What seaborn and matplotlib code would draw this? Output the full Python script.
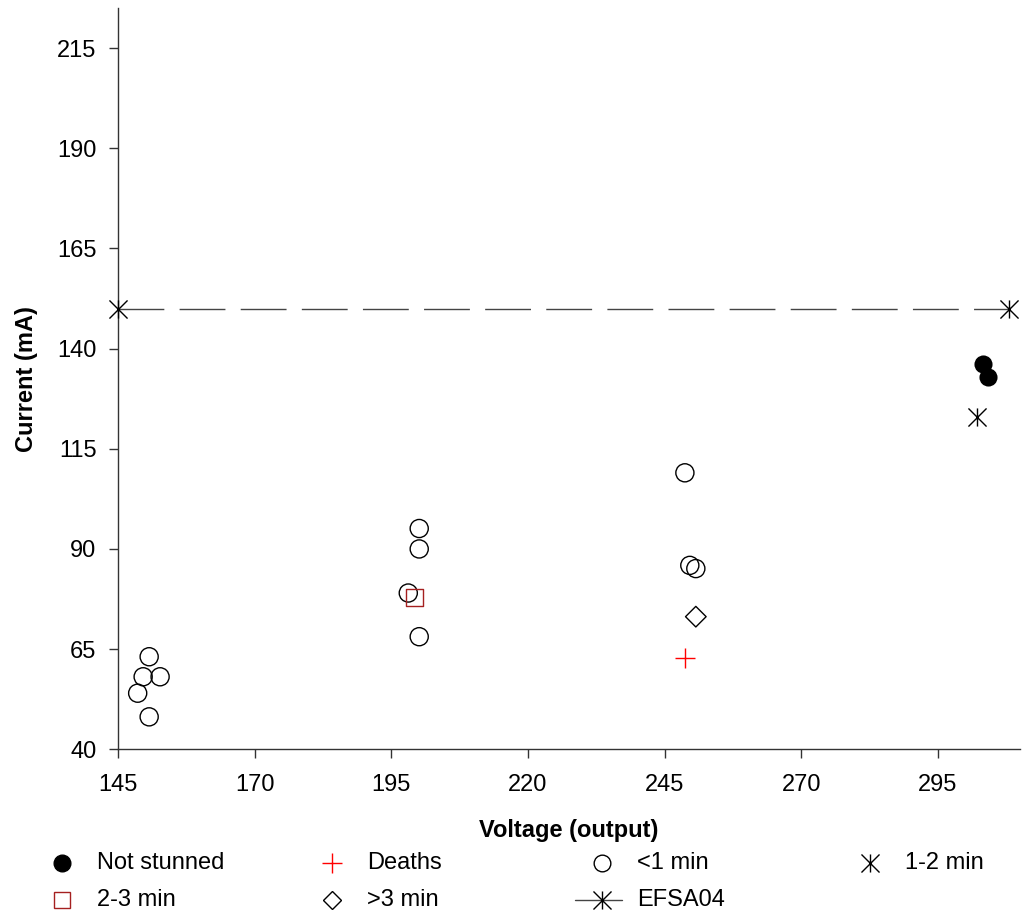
import numpy as np
import matplotlib
matplotlib.use("Agg")
import matplotlib.pyplot as plt
from matplotlib.path import Path
from matplotlib.lines import Line2D
import seaborn as sns

# --- data ---
not_stunned_x = [303.2, 304.1]
not_stunned_y = [136.2, 133.0]

deaths_x = [248.8]
deaths_y = [62.9]

lt1_x = [150.7, 149.6, 152.7, 148.6, 150.7, 200.1, 200.1, 198.1, 200.1, 248.7, 249.6, 250.7]
lt1_y = [63.1, 58.1, 58.1, 54.0, 48.1, 95.1, 90.0, 79.0, 68.1, 109.0, 85.9, 85.1]

m12_x = [302.2]
m12_y = [122.9]

m23_x = [199.2]
m23_y = [78.0]

gt3_x = [250.7]
gt3_y = [73.1]

efsa_x = [145, 308]
efsa_y = [150, 150]

x_ticks = [145, 170, 195, 220, 245, 270, 295]
y_ticks = [40, 65, 90, 115, 140, 165, 190, 215]

legend_labels = ["Not stunned", "Deaths", "<1 min", "1-2 min", "2-3 min", ">3 min", "EFSA04"]

# asterisk: vertical bar plus an X
ast = Path([(0, -1), (0, 1), (-1, -1), (1, 1), (-1, 1), (1, -1)],
           [Path.MOVETO, Path.LINETO, Path.MOVETO, Path.LINETO, Path.MOVETO, Path.LINETO])

sns.set_style("ticks")
plt.rcParams['font.family'] = ['Liberation Sans', 'DejaVu Sans']
plt.rcParams['text.color'] = 'black'
plt.rcParams['axes.labelcolor'] = 'black'
plt.rcParams['xtick.color'] = '#333333'
plt.rcParams['ytick.color'] = '#333333'
plt.rcParams['xtick.labelcolor'] = 'black'
plt.rcParams['ytick.labelcolor'] = 'black'

W, H = 1023, 916
fig = plt.figure(figsize=(W / 100, H / 100), dpi=100)
ax = fig.add_axes([118 / W, 1 - 749.3 / H, (1020 - 118) / W, (749.3 - 8) / H])

dark_red = "#A52020"
line_col = "#444444"
fs = 17

# EFSA04 reference line
ax.plot(efsa_x, efsa_y, color=line_col, lw=1, linestyle=(0, (33, 11)), zorder=1)
sns.scatterplot(x=efsa_x, y=efsa_y, marker=ast, s=170, color="black", edgecolor="black",
                linewidth=1, ax=ax, legend=False, zorder=3, clip_on=False)

sns.scatterplot(x=lt1_x, y=lt1_y, marker='o', s=170, facecolors='none', edgecolors='black',
                linewidth=1, ax=ax, legend=False, zorder=3)
sns.scatterplot(x=m23_x, y=m23_y, marker='s', s=150, facecolors='none', edgecolors=dark_red,
                linewidth=1, ax=ax, legend=False, zorder=4)
sns.scatterplot(x=gt3_x, y=gt3_y, marker='D', s=110, facecolors='none', edgecolors='black',
                linewidth=1, ax=ax, legend=False, zorder=3)
sns.scatterplot(x=deaths_x, y=deaths_y, marker='+', s=220, color='red',
                linewidth=1, ax=ax, legend=False, zorder=3)
sns.scatterplot(x=m12_x, y=m12_y, marker=ast, s=170, color='black', edgecolor='black',
                linewidth=1, ax=ax, legend=False, zorder=3)
sns.scatterplot(x=not_stunned_x, y=not_stunned_y, marker='o', s=170, color='black',
                edgecolor='black', linewidth=0, ax=ax, legend=False, zorder=3)

ax.set_xlim(145, 310)
ax.set_ylim(40, 225)
ax.set_xticks(x_ticks)
ax.set_yticks(y_ticks)
ax.tick_params(axis='both', direction='out', length=6.5, width=1, labelsize=fs)
ax.tick_params(axis='x', pad=11)
ax.tick_params(axis='y', pad=9)
sns.despine(ax=ax)
for sp in ['left', 'bottom']:
    ax.spines[sp].set_color('#333333')
    ax.spines[sp].set_linewidth(1)

ax.set_xlabel("Voltage (output)", fontsize=fs, fontweight='bold', labelpad=17)
ax.set_ylabel("Current (mA)", fontsize=fs, fontweight='bold', labelpad=14)

# --- legend below the plot, equal-width columns like the original ---
handle_styles = [
    dict(ls='none', marker='o', ms=12, mfc='black', mec='black'),
    dict(ls='none', marker='+', ms=14, mec='red', mew=1),
    dict(ls='none', marker='o', ms=12, mfc='none', mec='black', mew=1),
    dict(ls='none', marker=ast, ms=13, mec='black', mew=1),
    dict(ls='none', marker='s', ms=11.5, mfc='none', mec=dark_red, mew=1),
    dict(ls='none', marker='D', ms=9.5, mfc='none', mec='black', mew=1),
    dict(ls='none', marker=ast, ms=13, mec='black', mew=1),
]
col_x = [62, 332, 602, 870]
row_y = [863, 900]
for i, (lab, st) in enumerate(zip(legend_labels, handle_styles)):
    cx = col_x[i % 4] / W
    cy = 1 - row_y[i // 4] / H
    if lab == "EFSA04":
        fig.add_artist(Line2D([(col_x[i % 4] - 27) / W, (col_x[i % 4] + 20) / W], [cy, cy],
                              transform=fig.transFigure, color=line_col, lw=1))
    fig.add_artist(Line2D([cx], [cy], transform=fig.transFigure, **st))
    fig.text(cx + 35 / W, cy, lab, fontsize=fs, va='center', ha='left')

fig.savefig("out.png", dpi=100)
